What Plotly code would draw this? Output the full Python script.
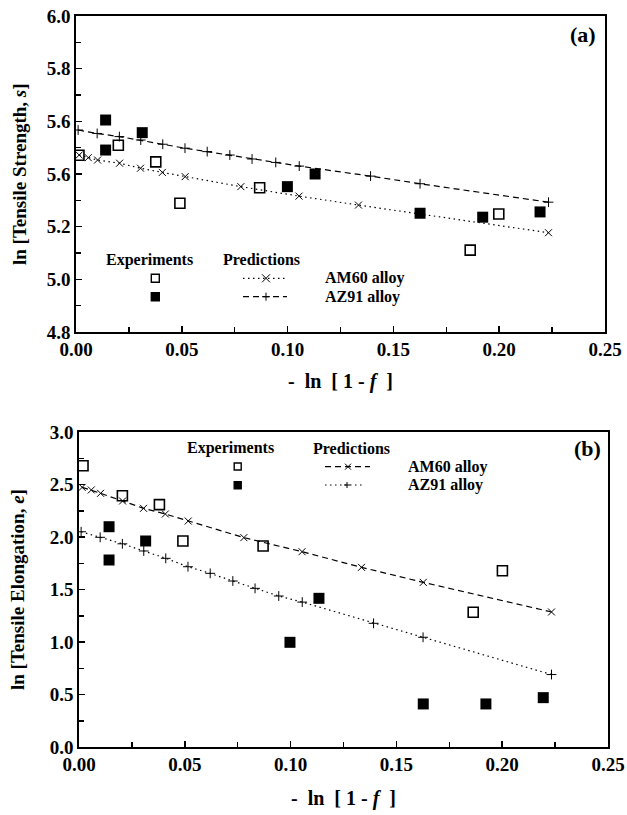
import plotly.graph_objects as go

W, H = 627, 815
FONT = "Liberation Serif"

# ---------------- data: panel (a) tensile strength ----------------
a_am60_exp_x = [0.0014, 0.0200, 0.0377, 0.0491, 0.0868, 0.1863, 0.1998]
a_am60_exp_y = [5.471, 5.509, 5.446, 5.289, 5.348, 5.111, 5.248]
a_az91_exp_x = [0.0140, 0.0140, 0.0313, 0.0999, 0.1130, 0.1626, 0.1922, 0.2193]
a_az91_exp_y = [5.605, 5.491, 5.557, 5.352, 5.400, 5.251, 5.236, 5.256]

am60_pred_x = [0.0015, 0.0058, 0.0102, 0.0206, 0.0305, 0.0408, 0.0516, 0.0779, 0.1054, 0.1335, 0.2233]
a_am60_pred_y = [5.472, 5.462, 5.453, 5.441, 5.422, 5.406, 5.390, 5.352, 5.316, 5.282, 5.177]
az91_pred_x = [0.0010, 0.0100, 0.0205, 0.0306, 0.0410, 0.0515, 0.0620, 0.0727, 0.0832, 0.0944, 0.1055, 0.1392, 0.1626, 0.2233]
a_az91_pred_y = [5.567, 5.554, 5.542, 5.529, 5.513, 5.498, 5.485, 5.472, 5.457, 5.444, 5.430, 5.392, 5.363, 5.293]

# ---------------- data: panel (b) tensile elongation ----------------
b_am60_exp_x = [0.0019, 0.0205, 0.0380, 0.0491, 0.0870, 0.1863, 0.2001]
b_am60_exp_y = [2.679, 2.393, 2.308, 1.962, 1.914, 1.283, 1.679]
b_az91_exp_x = [0.0142, 0.0142, 0.0315, 0.0997, 0.1134, 0.1627, 0.1923, 0.2194]
b_az91_exp_y = [2.098, 1.781, 1.962, 0.997, 1.416, 0.410, 0.410, 0.470]

b_am60_pred_x = [0.0015, 0.0058, 0.0102, 0.0206, 0.0305, 0.0408, 0.0516, 0.0779, 0.1054, 0.1335, 0.1627, 0.2233]
b_am60_pred_y = [2.473, 2.448, 2.416, 2.343, 2.273, 2.219, 2.152, 1.994, 1.860, 1.711, 1.568, 1.286]
b_az91_pred_y = [2.050, 1.997, 1.935, 1.867, 1.797, 1.717, 1.654, 1.581, 1.511, 1.438, 1.380, 1.178, 1.045, 0.690]

a_ytickvals = [4.8, 5.0, 5.2, 5.4, 5.6, 5.8, 6.0]
a_yticktext = ["4.8", "5.0", "5.2", "5.6", "5.6", "5.8", "6.0"]
b_ytickvals = [0.0, 0.5, 1.0, 1.5, 2.0, 2.5, 3.0]
b_yticktext = ["0.0", "0.5", "1.0", "1.5", "2.0", "2.5", "3.0"]


def px(x):
    return x / W


def py(y):
    return 1 - y / H


DASH = "6px,4px"
DOT = "1.5px,3.5px"

fig = go.Figure()


def pred(x, y, xa, ya, dash, sym):
    fig.add_trace(go.Scatter(
        x=x, y=y, xaxis=xa, yaxis=ya, mode="lines+markers",
        line=dict(color="black", width=1.2, dash=dash),
        marker=dict(symbol=sym, size=7, color="black", line=dict(color="black", width=1)),
        showlegend=False, hoverinfo="skip"))


def exp(x, y, xa, ya, filled):
    if filled:
        m = dict(symbol="square", size=11, color="black", line=dict(width=0))
    else:
        m = dict(symbol="square-open", size=10, color="black", line=dict(color="black", width=1.6))
    fig.add_trace(go.Scatter(x=x, y=y, xaxis=xa, yaxis=ya, mode="markers",
                             marker=m, showlegend=False, hoverinfo="skip"))


# panel (a)
pred(am60_pred_x, a_am60_pred_y, "x", "y", DOT, "x-thin")
pred(az91_pred_x, a_az91_pred_y, "x", "y", DASH, "cross-thin")
exp(a_am60_exp_x, a_am60_exp_y, "x", "y", False)
exp(a_az91_exp_x, a_az91_exp_y, "x", "y", True)

# panel (b)
pred(b_am60_pred_x, b_am60_pred_y, "x2", "y2", DASH, "x-thin")
pred(az91_pred_x, b_az91_pred_y, "x2", "y2", DOT, "cross-thin")
exp(b_am60_exp_x, b_am60_exp_y, "x2", "y2", False)
exp(b_az91_exp_x, b_az91_exp_y, "x2", "y2", True)

tickfont = dict(family=FONT, size=19, color="black", weight=700)


def xaxis(domain, anchor):
    return dict(domain=domain, anchor=anchor, range=[0, 0.25], tickmode="linear", tick0=0, dtick=0.05,
                tickformat=".2f", ticks="inside", ticklen=6, tickwidth=1.5, tickcolor="black",
                minor=dict(tick0=0, dtick=0.025, ticks="inside", ticklen=5, tickwidth=1.5, tickcolor="black"),
                showline=True, linecolor="black", linewidth=1.6, mirror=True, showgrid=False,
                zeroline=False, tickfont=tickfont, automargin=False, fixedrange=True)


def yaxis(domain, anchor, rng, tv, tt):
    return dict(domain=domain, anchor=anchor, range=rng, tickmode="array", tickvals=tv, ticktext=tt,
                ticks="inside", ticklen=6, tickwidth=1.5, tickcolor="black",
                minor=dict(tick0=0, dtick=(tv[1] - tv[0]) / 2, ticks="inside", ticklen=5, tickwidth=1.5,
                           tickcolor="black"),
                showline=True, linecolor="black", linewidth=1.6, mirror=True, showgrid=False,
                zeroline=False, tickfont=tickfont, automargin=False, fixedrange=True)


annotations = []
shapes = []


def text(x, y, s, size=16, xanchor="center", angle=0):
    annotations.append(dict(x=px(x), y=py(y), xref="paper", yref="paper", text=s, showarrow=False,
                            xanchor=xanchor, yanchor="middle", textangle=angle,
                            font=dict(family=FONT, size=size, color="black", weight=700)))


def sq(cx, cy, s, filled):
    shapes.append(dict(type="rect", xref="paper", yref="paper",
                       x0=px(cx - s / 2), x1=px(cx + s / 2), y0=py(cy + s / 2), y1=py(cy - s / 2),
                       line=dict(color="black", width=1.4),
                       fillcolor="black" if filled else "white"))


def seg(x0, x1, y, dash):
    shapes.append(dict(type="line", xref="paper", yref="paper", x0=px(x0), x1=px(x1), y0=py(y), y1=py(y),
                       line=dict(color="black", width=1.2, dash=dash)))


def xmark(cx, cy, s):
    h = s / 2
    shapes.append(dict(type="line", xref="paper", yref="paper", x0=px(cx - h), x1=px(cx + h),
                       y0=py(cy - h), y1=py(cy + h), line=dict(color="black", width=1)))
    shapes.append(dict(type="line", xref="paper", yref="paper", x0=px(cx - h), x1=px(cx + h),
                       y0=py(cy + h), y1=py(cy - h), line=dict(color="black", width=1)))


def pmark(cx, cy, s):
    h = s / 2
    shapes.append(dict(type="line", xref="paper", yref="paper", x0=px(cx - h), x1=px(cx + h),
                       y0=py(cy), y1=py(cy), line=dict(color="black", width=1)))
    shapes.append(dict(type="line", xref="paper", yref="paper", x0=px(cx), x1=px(cx),
                       y0=py(cy - h), y1=py(cy + h), line=dict(color="black", width=1)))


# axis titles
text(19, 174, "ln [Tensile Strength, <i>s</i>]", size=19, angle=-90)
text(340, 381, "-  ln  [ 1 - <i>f</i>  ]", size=20)
text(17, 590, "ln [Tensile Elongation, <i>e</i>]", size=19, angle=-90)
text(343, 798, "-  ln  [ 1 - <i>f</i>  ]", size=20)

# panel labels
text(583, 35, "(a)", size=22)
text(587, 448, "(b)", size=22)

# legend panel (a)
text(149, 260, "Experiments")
text(261, 260, "Predictions")
sq(155.3, 278.3, 8, False)
sq(155.3, 296.7, 8, True)
seg(243, 285, 278.3, DOT)
xmark(266, 278.3, 8)
seg(243, 287, 296.7, DASH)
pmark(266, 296.7, 8)
text(323, 278.3, "AM60 alloy", xanchor="left")
text(323, 296.7, "AZ91 alloy", xanchor="left")

# legend panel (b)
text(230, 448, "Experiments")
text(351, 448, "Predictions")
sq(237.7, 466.5, 7, False)
sq(237.7, 485.3, 7, True)
seg(325, 370, 466.7, DASH)
xmark(348, 466.7, 6)
seg(325, 365, 485, DOT)
pmark(347, 485, 6)
text(406, 466.7, "AM60 alloy", xanchor="left")
text(406, 485, "AZ91 alloy", xanchor="left")

fig.update_layout(
    width=W, height=H, margin=dict(l=0, r=0, t=0, b=0),
    paper_bgcolor="white", plot_bgcolor="white", showlegend=False,
    xaxis=xaxis([px(76), px(605)], "y"),
    yaxis=yaxis([py(332), py(16)], "x", [4.8, 6.0], a_ytickvals, a_yticktext),
    xaxis2=xaxis([px(79), px(608)], "y2"),
    yaxis2=yaxis([py(747), py(432)], "x2", [0.0, 3.0], b_ytickvals, b_yticktext),
    annotations=annotations, shapes=shapes,
)

fig.write_html("out.html", config={"displayModeBar": False, "staticPlot": True},
               post_script="document.body.style.margin='0';document.body.style.overflow='hidden';")
